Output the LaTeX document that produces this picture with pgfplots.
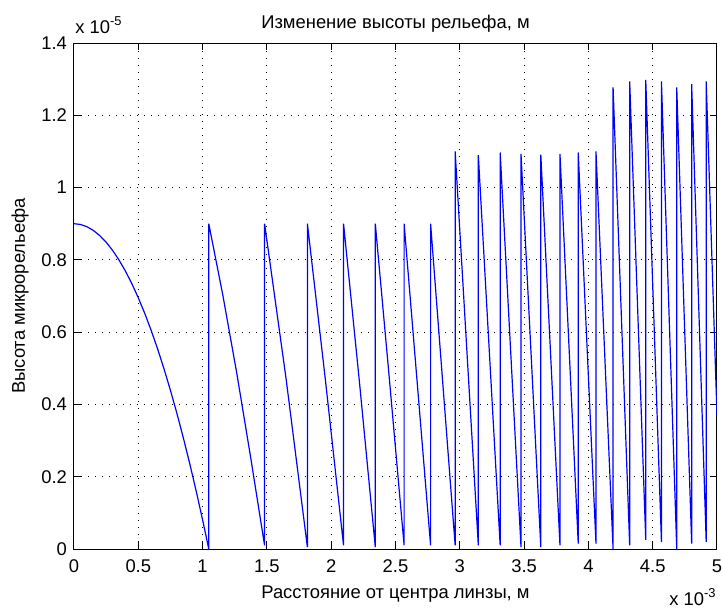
\documentclass[border=0pt]{standalone}
\usepackage{fontspec}
\setmainfont{Liberation Sans}
\usepackage{pgfplots}
\pgfplotsset{compat=1.18}
\begin{document}
\begin{tikzpicture}
\begin{axis}[
  at={(0,0)}, anchor=south west,
  scale only axis, width=321.5pt, height=253pt,
  xmin=0, xmax=5, ymin=0, ymax=1.4,
  xtick={0,0.5,1,1.5,2,2.5,3,3.5,4,4.5,5},
  xticklabels={0,0.5,1,1.5,2,2.5,3,3.5,4,4.5,5},
  ytick={0,0.2,0.4,0.6,0.8,1,1.2,1.4},
  yticklabels={0,0.2,0.4,0.6,0.8,1,1.2,1.4},
  grid=major,
  major grid style={black, line width=0.5pt, dash pattern=on 0.5pt off 3pt},
  tick align=inside, tick pos=both, major tick length=3.3pt,
  axis line style={black, line width=0.5pt},
  every tick/.style={black, line width=0.5pt},
  ticklabel style={font=\fontsize{9.2}{11}\selectfont},
  xticklabel style={anchor=base, yshift=-11.5pt},
  title={Изменение высоты рельефа, м},
  title style={at={(0.5,1)}, anchor=base, yshift=1.5pt, font=\fontsize{9.2}{11}\selectfont},
  xlabel={Расстояние от центра линзы, м},
  xlabel style={at={(0.5,0)}, anchor=base, yshift=-24.5pt, font=\fontsize{9.2}{11}\selectfont},
  ylabel={Высота микрорельефа},
  ylabel style={at={(0,0.5)}, anchor=center, yshift=27pt, font=\fontsize{9.2}{11}\selectfont},
  clip=true, clip mode=individual,
]
\addplot[color={rgb,1:red,0;green,0;blue,1}, line width=0.6pt, mark=none, line join=miter] coordinates {
(0,0.9) (0.05,0.8980) (0.1,0.8918) (0.15,0.8816) (0.2,0.8672) (0.25,0.8488) (0.3,0.8263) (0.35,0.7996) (0.4,0.7689) (0.45,0.7341) (0.5,0.6951) (0.55,0.6521) (0.6,0.6050) (0.65,0.5538) (0.7,0.4985) (0.75,0.4390) (0.8,0.3756) (0.85,0.3079) (0.9,0.2363) (0.95,0.1605) (1.0,0.0806) (1.025,0.0391) (1.048,0)
(1.048,0.9) (1.1565,0.704) (1.265,0.488) (1.3735,0.254) (1.482,0.01)
(1.482,0.9) (1.6485,0.473) (1.815,0.005)
(1.815,0.9) (1.9555,0.466) (2.096,0.01)
(2.096,0.9) (2.2195,0.4625) (2.343,0.005)
(2.343,0.9) (2.455,0.460) (2.567,0.01)
(2.567,0.9) (2.773,0.01)
(2.773,0.9) (2.964,0.01)
(2.964,1.10) (3.144,0.01)
(3.144,1.09) (3.314,0.01)
(3.314,1.097) (3.476,0.005)
(3.476,1.093) (3.630,0.005)
(3.630,1.091) (3.779,0.01)
(3.779,1.093) (3.921,0.015)
(3.921,1.097) (4.059,0.015)
(4.059,1.10) (4.192,0.0)
(4.192,1.277) (4.321,0.01)
(4.321,1.294) (4.446,0.025)
(4.446,1.298) (4.568,0.02)
(4.568,1.294) (4.687,0.0)
(4.687,1.277) (4.803,0.015)
(4.803,1.286) (4.916,0.02)
(4.916,1.294) (5.0,0.37)
};
\node[anchor=base west, font=\fontsize{9.2}{11}\selectfont, inner sep=0pt, yshift=5pt, xshift=0.5pt] at (rel axis cs:0,1) {x 10\textsuperscript{-5}};
\node[anchor=base east, font=\fontsize{9.2}{11}\selectfont, inner sep=0pt, yshift=-28pt] at (rel axis cs:1,0) {x 10\textsuperscript{-3}};
\end{axis}
\pgfresetboundingbox
\path[use as bounding box] (-37pt,-29pt) rectangle (324pt,274.5pt);
\end{tikzpicture}
\end{document}
